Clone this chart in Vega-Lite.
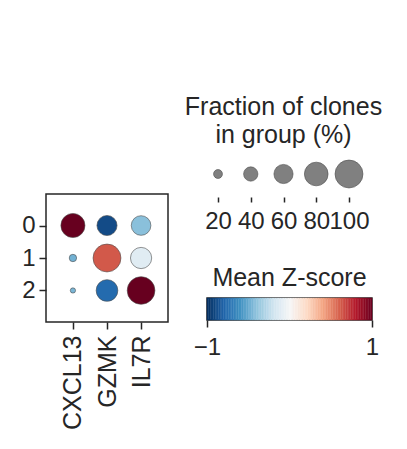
{
  "$schema": "https://vega.github.io/schema/vega-lite/v6.json",
  "padding": {"left": 20, "top": 95, "right": 0, "bottom": 0},
  "config": {
    "font": "Liberation Sans",
    "axis": {"labelFont": "Liberation Sans", "labelFontSize": 24, "labelColor": "#262626", "tickColor": "#262626", "tickWidth": 1.5, "domain": false, "grid": false},
    "title": {"font": "Liberation Sans", "fontSize": 25, "fontWeight": "normal", "color": "#262626"}
  },
  "datasets": {
    "dots": [
      {"group": "0", "gene": "CXCL13", "frac": 82, "z": 1.0},
      {"group": "0", "gene": "GZMK", "frac": 64, "z": -0.9},
      {"group": "0", "gene": "IL7R", "frac": 62, "z": -0.42},
      {"group": "1", "gene": "CXCL13", "frac": 15, "z": -0.48},
      {"group": "1", "gene": "GZMK", "frac": 100, "z": 0.62},
      {"group": "1", "gene": "IL7R", "frac": 69, "z": -0.12},
      {"group": "2", "gene": "CXCL13", "frac": 8, "z": -0.46},
      {"group": "2", "gene": "GZMK", "frac": 71, "z": -0.78},
      {"group": "2", "gene": "IL7R", "frac": 99, "z": 1.0}
    ],
    "sizes": [
      {"frac": 20}, {"frac": 40}, {"frac": 60}, {"frac": 80}, {"frac": 100}
    ],
    "cbar": [
      {"lo": -1, "hi": -0.98}, {"lo": -0.98, "hi": -0.96}, {"lo": -0.96, "hi": -0.94}, {"lo": -0.94, "hi": -0.92}, {"lo": -0.92, "hi": -0.9},
      {"lo": -0.9, "hi": -0.88}, {"lo": -0.88, "hi": -0.86}, {"lo": -0.86, "hi": -0.84}, {"lo": -0.84, "hi": -0.82}, {"lo": -0.82, "hi": -0.8},
      {"lo": -0.8, "hi": -0.78}, {"lo": -0.78, "hi": -0.76}, {"lo": -0.76, "hi": -0.74}, {"lo": -0.74, "hi": -0.72}, {"lo": -0.72, "hi": -0.7},
      {"lo": -0.7, "hi": -0.68}, {"lo": -0.68, "hi": -0.66}, {"lo": -0.66, "hi": -0.64}, {"lo": -0.64, "hi": -0.62}, {"lo": -0.62, "hi": -0.6},
      {"lo": -0.6, "hi": -0.58}, {"lo": -0.58, "hi": -0.56}, {"lo": -0.56, "hi": -0.54}, {"lo": -0.54, "hi": -0.52}, {"lo": -0.52, "hi": -0.5},
      {"lo": -0.5, "hi": -0.48}, {"lo": -0.48, "hi": -0.46}, {"lo": -0.46, "hi": -0.44}, {"lo": -0.44, "hi": -0.42}, {"lo": -0.42, "hi": -0.4},
      {"lo": -0.4, "hi": -0.38}, {"lo": -0.38, "hi": -0.36}, {"lo": -0.36, "hi": -0.34}, {"lo": -0.34, "hi": -0.32}, {"lo": -0.32, "hi": -0.3},
      {"lo": -0.3, "hi": -0.28}, {"lo": -0.28, "hi": -0.26}, {"lo": -0.26, "hi": -0.24}, {"lo": -0.24, "hi": -0.22}, {"lo": -0.22, "hi": -0.2},
      {"lo": -0.2, "hi": -0.18}, {"lo": -0.18, "hi": -0.16}, {"lo": -0.16, "hi": -0.14}, {"lo": -0.14, "hi": -0.12}, {"lo": -0.12, "hi": -0.1},
      {"lo": -0.1, "hi": -0.08}, {"lo": -0.08, "hi": -0.06}, {"lo": -0.06, "hi": -0.04}, {"lo": -0.04, "hi": -0.02}, {"lo": -0.02, "hi": 0},
      {"lo": 0, "hi": 0.02}, {"lo": 0.02, "hi": 0.04}, {"lo": 0.04, "hi": 0.06}, {"lo": 0.06, "hi": 0.08}, {"lo": 0.08, "hi": 0.1},
      {"lo": 0.1, "hi": 0.12}, {"lo": 0.12, "hi": 0.14}, {"lo": 0.14, "hi": 0.16}, {"lo": 0.16, "hi": 0.18}, {"lo": 0.18, "hi": 0.2},
      {"lo": 0.2, "hi": 0.22}, {"lo": 0.22, "hi": 0.24}, {"lo": 0.24, "hi": 0.26}, {"lo": 0.26, "hi": 0.28}, {"lo": 0.28, "hi": 0.3},
      {"lo": 0.3, "hi": 0.32}, {"lo": 0.32, "hi": 0.34}, {"lo": 0.34, "hi": 0.36}, {"lo": 0.36, "hi": 0.38}, {"lo": 0.38, "hi": 0.4},
      {"lo": 0.4, "hi": 0.42}, {"lo": 0.42, "hi": 0.44}, {"lo": 0.44, "hi": 0.46}, {"lo": 0.46, "hi": 0.48}, {"lo": 0.48, "hi": 0.5},
      {"lo": 0.5, "hi": 0.52}, {"lo": 0.52, "hi": 0.54}, {"lo": 0.54, "hi": 0.56}, {"lo": 0.56, "hi": 0.58}, {"lo": 0.58, "hi": 0.6},
      {"lo": 0.6, "hi": 0.62}, {"lo": 0.62, "hi": 0.64}, {"lo": 0.64, "hi": 0.66}, {"lo": 0.66, "hi": 0.68}, {"lo": 0.68, "hi": 0.7},
      {"lo": 0.7, "hi": 0.72}, {"lo": 0.72, "hi": 0.74}, {"lo": 0.74, "hi": 0.76}, {"lo": 0.76, "hi": 0.78}, {"lo": 0.78, "hi": 0.8},
      {"lo": 0.8, "hi": 0.82}, {"lo": 0.82, "hi": 0.84}, {"lo": 0.84, "hi": 0.86}, {"lo": 0.86, "hi": 0.88}, {"lo": 0.88, "hi": 0.9},
      {"lo": 0.9, "hi": 0.92}, {"lo": 0.92, "hi": 0.94}, {"lo": 0.94, "hi": 0.96}, {"lo": 0.96, "hi": 0.98}, {"lo": 0.98, "hi": 1}
    ]
  },
  "resolve": {"scale": {"color": "independent", "size": "independent", "x": "independent", "y": "independent"}},
  "spacing": 15,
  "hconcat": [
    {
      "spacing": 0,
      "vconcat": [
        {
          "width": 122,
          "height": 42,
          "data": {"values": []},
          "view": {"stroke": null},
          "mark": "point"
        },
        {
          "width": 122,
          "height": 128,
          "data": {"name": "dots"},
          "view": {"stroke": "#262626", "strokeWidth": 1.5},
          "mark": {"type": "circle", "opacity": 1, "stroke": "#4d4d4d", "strokeWidth": 0.6},
          "encoding": {
            "x": {"field": "gene", "type": "nominal", "sort": ["CXCL13", "GZMK", "IL7R"],
                  "scale": {"type": "point", "padding": 0.79},
                  "axis": {"title": null, "labelAngle": -90, "tickSize": 7, "labelPadding": 6, "labelFontSize": 25}},
            "y": {"field": "group", "type": "nominal", "sort": ["0", "1", "2"],
                  "scale": {"type": "point", "padding": 0.97},
                  "axis": {"title": null, "tickSize": 7, "labelPadding": 4}},
            "size": {"field": "frac", "type": "quantitative",
                     "scale": {"type": "pow", "exponent": 1.5, "domain": [0, 100], "range": [10, 780]}, "legend": null},
            "color": {"field": "z", "type": "quantitative",
                      "scale": {"type": "linear", "interpolate": "rgb", "domain": [-1, -0.8, -0.6, -0.4, -0.2, 0, 0.2, 0.4, 0.6, 0.8, 1],
                                "range": ["#053061", "#2166ac", "#4393c3", "#92c5de", "#d1e5f0", "#f7f7f7", "#fddbc7", "#f4a582", "#d6604d", "#b2182b", "#67001f"], "clamp": true},
                      "legend": null}
          }
        }
      ]
    },
    {
      "spacing": 32,
      "vconcat": [
        {
          "width": 153,
          "height": 46,
          "title": {"text": ["Fraction of clones", "in group (%)"], "lineHeight": 28, "anchor": "middle", "offset": 3},
          "data": {"name": "sizes"},
          "view": {"stroke": null},
          "mark": {"type": "circle", "color": "#808080", "opacity": 1, "stroke": "#4d4d4d", "strokeWidth": 0.6},
          "encoding": {
            "x": {"field": "frac", "type": "ordinal", "scale": {"type": "point", "padding": 0.336},
                  "axis": {"title": null, "labelAngle": 0, "tickSize": 5, "labelPadding": 7}},
            "size": {"field": "frac", "type": "quantitative",
                     "scale": {"type": "pow", "exponent": 1.5, "domain": [0, 100], "range": [10, 780]}, "legend": null}
          }
        },
        {
          "width": 165,
          "height": 22,
          "title": {"text": "Mean Z-score", "anchor": "middle", "offset": 7},
          "data": {"name": "cbar"},
          "view": {"stroke": "#262626", "strokeWidth": 1.5},
          "mark": {"type": "rect", "strokeWidth": 0.4},
          "encoding": {
            "x": {"field": "lo", "type": "quantitative", "scale": {"domain": [-1, 1], "nice": false, "zero": false},
                  "axis": {"title": null, "values": [-1, 0, 1], "tickSize": 7, "labelFlush": false, "labelPadding": 8, "format": "d"}},
            "x2": {"field": "hi"},
            "color": {"field": "lo", "type": "quantitative",
                      "scale": {"type": "linear", "interpolate": "rgb", "domain": [-1, -0.8, -0.6, -0.4, -0.2, 0, 0.2, 0.4, 0.6, 0.8, 1],
                                "range": ["#053061", "#2166ac", "#4393c3", "#92c5de", "#d1e5f0", "#f7f7f7", "#fddbc7", "#f4a582", "#d6604d", "#b2182b", "#67001f"]},
                      "legend": null},
            "stroke": {"field": "lo", "type": "quantitative",
                       "scale": {"type": "linear", "interpolate": "rgb", "domain": [-1, -0.8, -0.6, -0.4, -0.2, 0, 0.2, 0.4, 0.6, 0.8, 1],
                                 "range": ["#053061", "#2166ac", "#4393c3", "#92c5de", "#d1e5f0", "#f7f7f7", "#fddbc7", "#f4a582", "#d6604d", "#b2182b", "#67001f"]},
                       "legend": null}
          }
        }
      ]
    }
  ]
}
